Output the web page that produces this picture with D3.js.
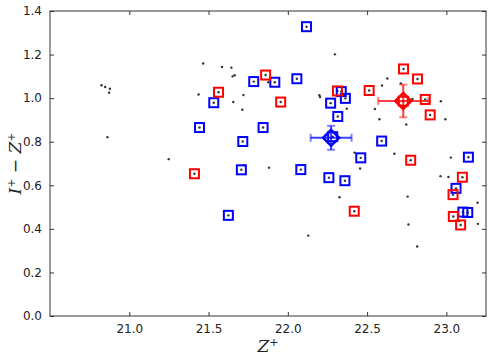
<!DOCTYPE html>
<html>
<head>
<meta charset="utf-8">
<script src="https://d3js.org/d3.v7.min.js"></script>
<style>
body { margin: 0; background: white; }
.axis text { font-family: "DejaVu Sans", sans-serif; font-size: 12px; fill: #222; }
</style>
</head>
<body>
<svg id="chart" width="492" height="360"></svg>
<script>
// blue squares (Z+, I+ - Z+)
var blueX = [22.118, 21.785, 21.918, 22.057, 21.533, 21.443, 21.716, 21.707, 21.625, 21.844,
             22.082, 22.270, 22.363, 22.315, 22.337, 22.259, 22.360, 22.460, 22.592, 23.139,
             23.061, 23.104, 23.135, 22.283];
var blueY = [1.328, 1.076, 1.073, 1.089, 0.979, 0.865, 0.801, 0.671, 0.462, 0.865,
             0.672, 0.977, 0.999, 0.916, 1.030, 0.635, 0.621, 0.726, 0.803, 0.729,
             0.586, 0.477, 0.475, 0.823];
// red squares
var redX = [21.860, 21.563, 21.955, 21.411, 22.313, 22.513, 22.730, 22.818, 22.867, 22.898,
            22.775, 22.419, 23.101, 23.042, 23.044, 23.090, 22.728];
var redY = [1.106, 1.027, 0.982, 0.653, 1.033, 1.035, 1.134, 1.088, 0.994, 0.923,
            0.715, 0.481, 0.637, 0.557, 0.457, 0.418, 0.986];
// other galaxies (black dots)
var dotX = [20.825, 20.848, 20.878, 20.873, 20.862, 21.249, 21.466, 21.585, 21.644, 21.652,
            21.665, 21.437, 21.720, 21.656, 21.713, 21.726, 21.877, 21.882, 22.297, 22.199,
            22.203, 22.372, 22.628, 22.594, 22.713, 22.549, 22.578, 22.786, 22.965, 22.994,
            22.747, 22.421, 22.672, 22.456, 23.028, 22.963, 23.013, 22.326, 22.756, 23.197,
            22.761, 23.199, 22.816, 22.129, 23.079];
var dotY = [1.059, 1.051, 1.043, 1.025, 0.821, 0.720, 1.159, 1.143, 1.140, 1.100,
            1.105, 1.017, 1.014, 0.982, 0.947, 0.692, 1.073, 0.681, 1.201, 1.013,
            1.005, 0.951, 1.090, 1.058, 1.068, 0.950, 0.903, 0.996, 0.986, 0.903,
            0.879, 0.750, 0.745, 0.677, 0.727, 0.642, 0.638, 0.545, 0.548, 0.520,
            0.420, 0.423, 0.319, 0.369, 0.436];
// means with errors
var meanX = [22.273, 22.728];
var meanY = [0.818, 0.987];
var meanXerr = [0.129, 0.158];
var meanYerr = [0.055, 0.075];
var meanColor = ["#0000ff", "#ff0000"];

var xTicks = [21.0, 21.5, 22.0, 22.5, 23.0];
var yTicks = [0.0, 0.2, 0.4, 0.6, 0.8, 1.0, 1.2, 1.4];

var pL = 50, pR = 486, pT = 11, pB = 316;
var svg = d3.select("#chart");
var x = d3.scaleLinear().domain([20.5, 23.25]).range([pL, pR]);
var y = d3.scaleLinear().domain([0, 1.4]).range([pB, pT]);

var allX = dotX.concat(blueX, redX), allY = dotY.concat(blueY, redY);

svg.append("g").selectAll("circle")
  .data(d3.range(allX.length))
  .enter().append("circle")
  .attr("cx", function(i) { return x(allX[i]); })
  .attr("cy", function(i) { return y(allY[i]); })
  .attr("r", 1.2)
  .attr("fill", "#333");

function squares(xs, ys, col) {
  svg.append("g").selectAll("rect")
    .data(d3.range(xs.length))
    .enter().append("rect")
    .attr("x", function(i) { return x(xs[i]) - 4.5; })
    .attr("y", function(i) { return y(ys[i]) - 4.5; })
    .attr("width", 9).attr("height", 9)
    .attr("fill", "none")
    .attr("stroke", col)
    .attr("stroke-width", 2);
}
squares(blueX, blueY, "#0000ff");
squares(redX, redY, "#ff0000");

// mean points with error bars
meanX.forEach(function(mx, i) {
  var g = svg.append("g").attr("stroke", meanColor[i]).attr("fill", "none");
  var cx = x(mx), cy = y(meanY[i]);
  var x0 = x(mx - meanXerr[i]), x1 = x(mx + meanXerr[i]);
  var y0 = y(meanY[i] - meanYerr[i]), y1 = y(meanY[i] + meanYerr[i]);
  var bars = g.append("g").attr("stroke-opacity", 0.75).attr("stroke-width", 2);
  bars.append("line").attr("x1", x0).attr("x2", x1).attr("y1", cy).attr("y2", cy);
  bars.append("line").attr("x1", cx).attr("x2", cx).attr("y1", y0).attr("y2", y1);
  bars.append("line").attr("x1", x0).attr("x2", x0).attr("y1", cy - 4).attr("y2", cy + 4).attr("stroke-opacity", 0.5);
  bars.append("line").attr("x1", x1).attr("x2", x1).attr("y1", cy - 4).attr("y2", cy + 4).attr("stroke-opacity", 0.5);
  bars.append("line").attr("x1", cx - 4).attr("x2", cx + 4).attr("y1", y0).attr("y2", y0).attr("stroke-opacity", 0.5);
  bars.append("line").attr("x1", cx - 4).attr("x2", cx + 4).attr("y1", y1).attr("y2", y1).attr("stroke-opacity", 0.5);
  g.append("path")
    .attr("d", "M" + cx + "," + (cy - 8) + "L" + (cx + 8) + "," + cy + "L" + cx + "," + (cy + 8) + "L" + (cx - 8) + "," + cy + "Z")
    .attr("stroke-width", 2.5);
});

// frame and ticks
svg.append("rect").attr("x", pL).attr("y", pT)
  .attr("width", pR - pL).attr("height", pB - pT)
  .attr("fill", "none").attr("stroke", "#333").attr("stroke-width", 1);

svg.append("g").attr("class", "axis").attr("transform", "translate(0," + pB + ")")
  .call(d3.axisBottom(x).tickValues(xTicks).tickFormat(d3.format(".1f")).tickSizeInner(-4).tickSizeOuter(0).tickPadding(8));
svg.append("g").attr("class", "axis").attr("transform", "translate(0," + pT + ")")
  .call(d3.axisTop(x).tickValues(xTicks).tickFormat("").tickSizeInner(-4).tickSizeOuter(0));
svg.append("g").attr("class", "axis").attr("transform", "translate(" + pL + ",0)")
  .call(d3.axisLeft(y).tickValues(yTicks).tickFormat(d3.format(".1f")).tickSizeInner(-4).tickSizeOuter(0).tickPadding(8));
svg.append("g").attr("class", "axis").attr("transform", "translate(" + pR + ",0)")
  .call(d3.axisRight(y).tickValues(yTicks).tickFormat("").tickSizeInner(-4).tickSizeOuter(0));
svg.selectAll(".axis .domain").remove();
svg.selectAll(".axis line").attr("stroke", "#333");

// axis labels
var xl = svg.append("text").attr("x", (pL + pR) / 2).attr("y", 352)
  .attr("text-anchor", "middle").attr("font-family", "DejaVu Serif, serif").attr("font-size", 17).attr("fill", "#222");
xl.append("tspan").attr("font-style", "italic").text("Z");
xl.append("tspan").attr("font-size", 11).attr("dy", -6).text("+");

var yl = svg.append("text").attr("transform", "translate(21," + ((pT + pB) / 2) + ") rotate(-90)")
  .attr("text-anchor", "middle").attr("font-family", "DejaVu Serif, serif").attr("font-size", 17).attr("fill", "#222");
yl.append("tspan").attr("font-style", "italic").text("I");
yl.append("tspan").attr("font-size", 11).attr("dy", -6).text("+");
yl.append("tspan").attr("dy", 6).text(" \u2212 ");
yl.append("tspan").attr("font-style", "italic").text("Z");
yl.append("tspan").attr("font-size", 11).attr("dy", -6).text("+");
</script>
</body>
</html>
